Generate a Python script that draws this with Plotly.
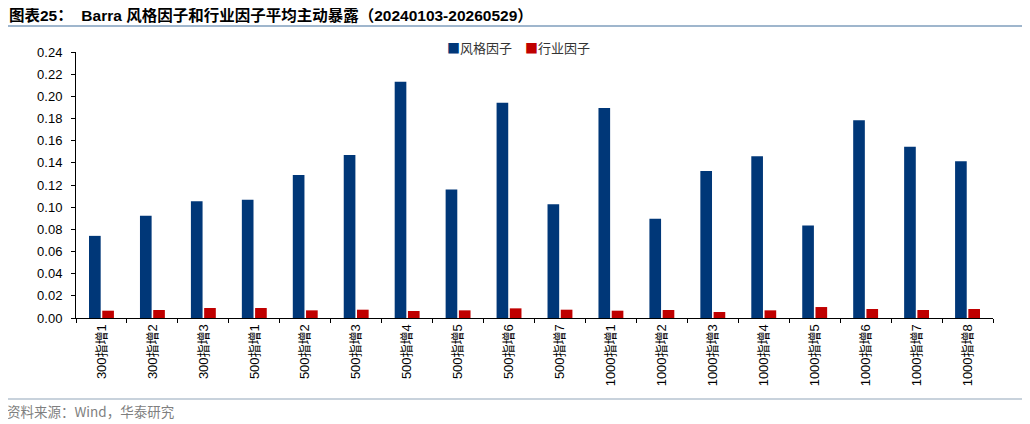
import plotly.graph_objects as go

categories = ["300指增1", "300指增2", "300指增3", "500指增1", "500指增2", "500指增3",
              "500指增4", "500指增5", "500指增6", "500指增7", "1000指增1", "1000指增2",
              "1000指增3", "1000指增4", "1000指增5", "1000指增6", "1000指增7", "1000指增8"]
style_factor = [0.0741, 0.0922, 0.1054, 0.1066, 0.1291, 0.1471, 0.2132, 0.1159, 0.1943,
                0.1027, 0.1895, 0.0895, 0.1327, 0.1459, 0.0834, 0.1784, 0.1546, 0.1414]
industry_factor = [0.0066, 0.0072, 0.0090, 0.0090, 0.0069, 0.0075, 0.0063, 0.0069, 0.0087,
                   0.0075, 0.0066, 0.0072, 0.0054, 0.0069, 0.0099, 0.0081, 0.0072, 0.0081]
y_ticks = [0.00, 0.02, 0.04, 0.06, 0.08, 0.10, 0.12, 0.14, 0.16, 0.18, 0.20, 0.22, 0.24]
series_names = ["风格因子", "行业因子"]
series_colors = ["#003778", "#C00000"]

FONT = "Arial, 'Liberation Sans', 'Noto Sans CJK SC', sans-serif"
CJK = "'Noto Sans CJK SC', sans-serif"

# page has an 8px body margin; the figure is placed at (8, 8)
OFF = 8
W, H = 1030 - OFF, 424 - OFF
# plot area in page pixels: x 76..993, y 52..318
L, R, T, B = 76 - OFF, 1030 - 993, 52 - OFF, 424 - 318
pw, ph = W - L - R, H - T - B


def px_x(x):
    return (x - OFF - L) / pw


def px_y(y):
    return (H - B - (y - OFF)) / ph


fig = go.Figure()
for name, vals, col in zip(series_names, [style_factor, industry_factor], series_colors):
    fig.add_trace(go.Bar(name=name, x=categories, y=vals,
                         marker=dict(color=col, line=dict(width=0))))

fig.update_layout(
    width=W, height=H,
    margin=dict(l=L, r=R, t=T, b=B, pad=0),
    paper_bgcolor="white", plot_bgcolor="white",
    barmode="group", bargap=0.48, bargroupgap=0.12,
    font=dict(family=FONT, size=12, color="#000000"),
    showlegend=False,
    xaxis=dict(type="category", showline=True, linecolor="#000000", linewidth=1,
               ticks="outside", tickson="boundaries", ticklen=4, tickcolor="#000000",
               tickangle=-90, tickfont=dict(family=FONT, size=13, color="#000000"),
               showgrid=False, zeroline=False),
    yaxis=dict(range=[0, 0.24], tickvals=y_ticks, tickformat=".2f",
               showline=True, linecolor="#000000", linewidth=1,
               ticks="outside", ticklen=4, tickcolor="#000000", ticklabelstandoff=6,
               tickfont=dict(family=FONT, size=13, color="#000000"),
               showgrid=False, zeroline=False),
)

# Legend drawn as text markers
leg_x = [445, 523]
for name, col, lx in zip(series_names, series_colors, leg_x):
    fig.add_annotation(xref="paper", yref="paper", x=px_x(lx), y=px_y(48),
                       xanchor="left", yanchor="middle", showarrow=False,
                       text=f"<span style='color:{col}'>■</span>{name}",
                       font=dict(family=CJK, size=13, color="#333333"))

# Title
fig.add_annotation(xref="paper", yref="paper", x=px_x(7), y=px_y(15),
                   xanchor="left", yanchor="middle", showarrow=False,
                   text="<b>图表25：  Barra 风格因子和行业因子平均主动暴露（20240103-20260529）</b>",
                   font=dict(family=FONT, size=15.5, color="#000000"))
fig.add_shape(type="line", xref="paper", yref="paper",
              x0=px_x(0), x1=px_x(1030), y0=px_y(26), y1=px_y(26),
              line=dict(color="#9FB6CD", width=2))
fig.add_shape(type="line", xref="paper", yref="paper",
              x0=px_x(0), x1=px_x(1030), y0=px_y(399), y1=px_y(399),
              line=dict(color="#C8D2DC", width=2))
fig.add_annotation(xref="paper", yref="paper", x=px_x(5), y=px_y(411),
                   xanchor="left", yanchor="middle", showarrow=False,
                   text="资料来源：Wind，华泰研究",
                   font=dict(family=CJK, size=13.5, color="#7F7F7F"))

fig.write_html("out.html")
